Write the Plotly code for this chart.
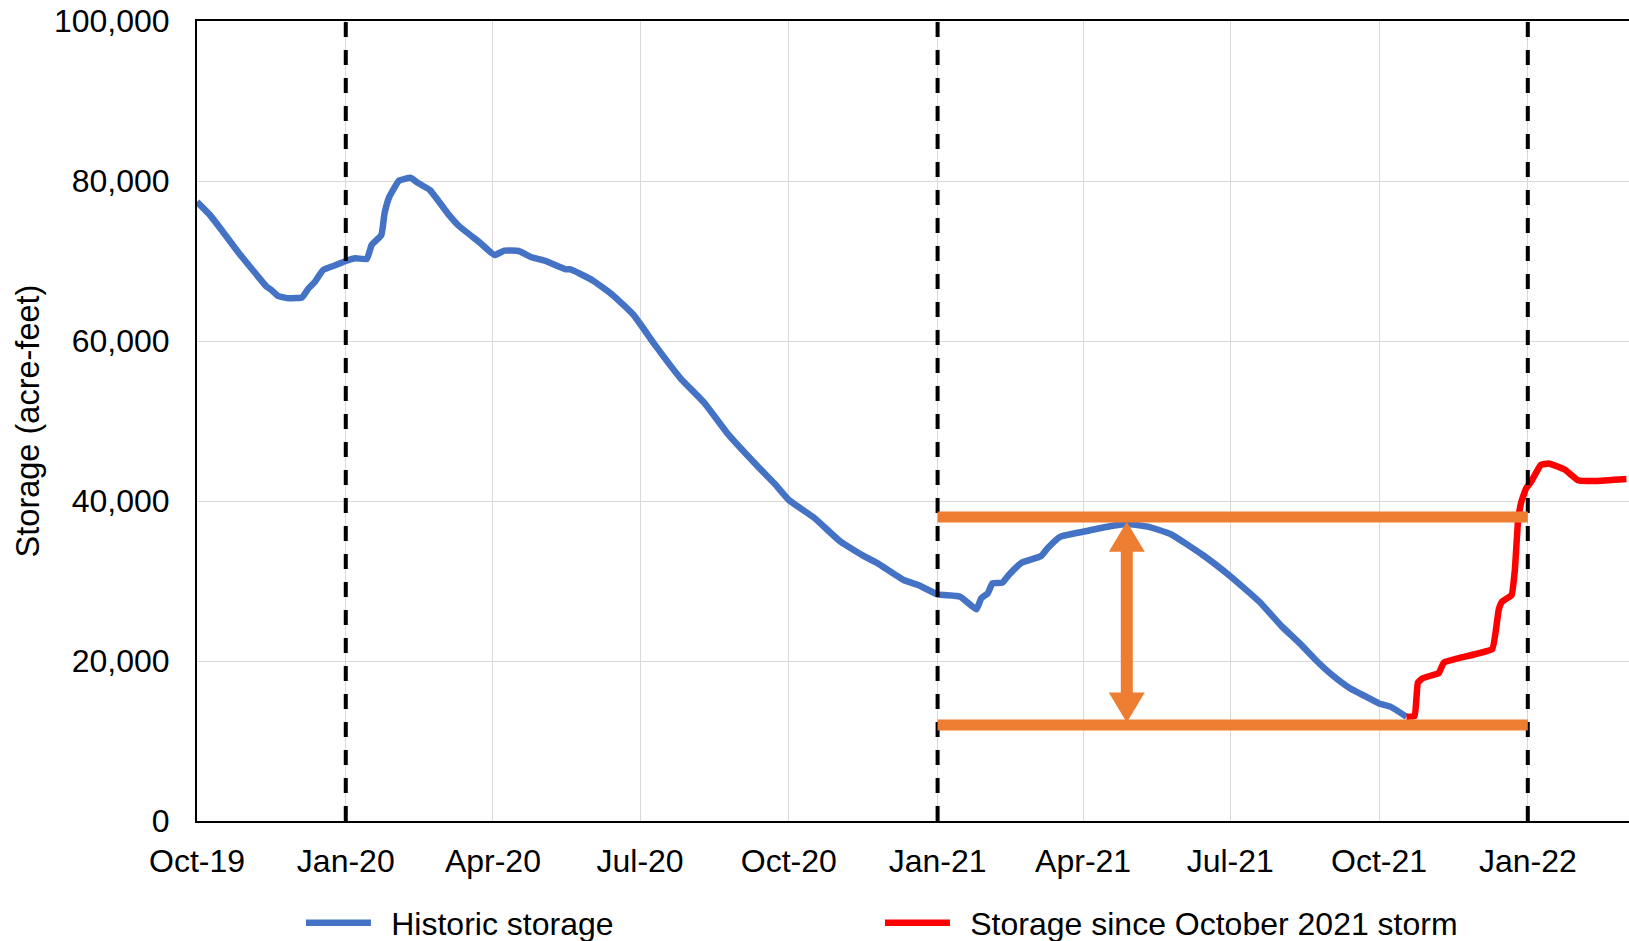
import plotly.graph_objects as go

# ---------------- data ----------------
hist_dates = [
    "2019-10-01", "2019-10-09", "2019-10-17", "2019-10-27", "2019-11-07", "2019-11-13",
    "2019-11-16", "2019-11-20", "2019-11-27", "2019-12-05", "2019-12-09", "2019-12-13",
    "2019-12-18", "2019-12-26", "2020-01-01", "2020-01-07", "2020-01-14", "2020-01-17",
    "2020-01-23", "2020-01-25", "2020-01-28", "2020-02-03", "2020-02-10", "2020-02-15",
    "2020-02-22", "2020-03-04", "2020-03-11", "2020-03-24", "2020-04-02", "2020-04-08",
    "2020-04-17", "2020-04-25", "2020-05-03", "2020-05-16", "2020-05-19", "2020-06-02",
    "2020-06-14", "2020-06-27", "2020-07-11", "2020-07-26", "2020-08-10", "2020-08-24",
    "2020-09-12", "2020-09-22", "2020-10-01", "2020-10-17", "2020-11-02", "2020-11-17",
    "2020-11-25", "2020-12-11", "2020-12-20", "2021-01-01", "2021-01-15", "2021-01-25",
    "2021-01-28", "2021-02-01", "2021-02-04", "2021-02-10", "2021-02-14", "2021-02-22",
    "2021-03-06", "2021-03-10", "2021-03-18", "2021-04-01", "2021-04-16", "2021-04-28",
    "2021-05-11", "2021-05-25", "2021-06-14", "2021-07-01", "2021-07-19", "2021-08-02",
    "2021-08-13", "2021-08-23", "2021-09-02", "2021-09-13", "2021-09-23", "2021-10-01",
    "2021-10-08", "2021-10-18",
]
hist_storage = [
    77400, 75750, 73660, 70960, 68250, 66800,
    66380, 65630, 65340, 65460, 66590, 67410,
    68875, 69500, 70000, 70340, 70250, 72000,
    73250, 75960, 78040, 80040, 80400, 79710,
    78875, 75960, 74375, 72290, 70750, 71290,
    71250, 70460, 70040, 68960, 68960, 67540,
    65750, 63250, 59290, 55340, 52210, 48460,
    44290, 42210, 40125, 37840, 34910, 33040,
    32210, 30125, 29500, 28340, 28040, 26460,
    27840, 28460, 29710, 29790, 30750, 32290,
    33125, 34090, 35540, 36160, 36790, 37125,
    36790, 35875, 33250, 30600, 27410, 24300,
    22200, 20100, 18250, 16600, 15540, 14700,
    14300, 13040,
]

storm_dates = [
    "2021-10-18", "2021-10-23", "2021-10-25", "2021-10-28", "2021-11-07", "2021-11-10",
    "2021-11-20", "2021-12-10", "2021-12-14", "2021-12-16", "2021-12-22", "2021-12-24",
    "2021-12-26", "2021-12-28", "2021-12-31", "2022-01-03", "2022-01-09", "2022-01-14",
    "2022-01-24", "2022-02-01", "2022-02-12", "2022-03-03",
]
storm_storage = [
    13040, 13100, 17300, 17850, 18500, 19800,
    20400, 21500, 26400, 27400, 28250, 31400,
    37600, 39900, 41600, 42400, 44500, 44700,
    43900, 42600, 42500, 42750,
]

tick_dates = ["2019-10-01", "2020-01-01", "2020-04-01", "2020-07-01", "2020-10-01",
              "2021-01-01", "2021-04-01", "2021-07-01", "2021-10-01", "2022-01-01"]
tick_labels = ["Oct-19", "Jan-20", "Apr-20", "Jul-20", "Oct-20",
               "Jan-21", "Apr-21", "Jul-21", "Oct-21", "Jan-22"]
y_ticks = [0, 20000, 40000, 60000, 80000, 100000]

year_marks = ["2020-01-01", "2021-01-01", "2022-01-01"]
band_start, band_end = "2021-01-01", "2022-01-01"
band_high, band_low = 38000, 12000
arrow_date = "2021-04-28"
arrow_top, arrow_bottom = 37400, 12300

X_RANGE = ["2019-10-01", "2022-03-04 14:00"]
Y_RANGE = [0, 100000]

# ---------------- styling ----------------
W, H = 1629, 941
M_L, M_R, M_T, M_B = 197, 0, 21, 120
PLOT_H = H - M_T - M_B
FONT = "Liberation Sans, Arial, sans-serif"
BLUE = "#4472C4"
RED = "#FF0000"
ORANGE = "#ED7D31"
GRID = "#D9D9D9"
NB = "\u00a0\u2009"

fig = go.Figure()
fig.add_trace(go.Scatter(x=hist_dates, y=hist_storage, mode="lines",
                         name=NB + "Historic storage",
                         line=dict(color=BLUE, width=6.5, shape="spline", smoothing=0.4)))
fig.add_trace(go.Scatter(x=storm_dates, y=storm_storage, mode="lines",
                         name=NB + "Storage since October 2021 storm",
                         line=dict(color=RED, width=6.5, shape="spline", smoothing=0.3)))

# dashed year markers
for d in year_marks:
    fig.add_shape(type="line", xref="x", yref="paper", x0=d, x1=d, y0=0, y1=1,
                  line=dict(color="black", width=4, dash="15px,13px"), layer="above")

# orange band lines
for v in (band_high, band_low):
    fig.add_shape(type="line", xref="x", yref="y", x0=band_start, x1=band_end, y0=v, y1=v,
                  line=dict(color=ORANGE, width=11), layer="above")

# double arrow (pixel widths, data heights)
units_per_px = (Y_RANGE[1] - Y_RANGE[0]) / PLOT_H
head = 30 * units_per_px
half_head_w, half_shaft_w = 18, 6
fig.add_shape(type="rect", xref="x", yref="y", xsizemode="pixel", xanchor=arrow_date,
              x0=-half_shaft_w, x1=half_shaft_w,
              y0=arrow_bottom + head - 200, y1=arrow_top - head + 200,
              fillcolor=ORANGE, line=dict(width=0), layer="above")
fig.add_shape(type="path", xref="x", yref="y", xsizemode="pixel", xanchor=arrow_date,
              path=f"M{-half_head_w},{arrow_top - head} L{half_head_w},{arrow_top - head} L0,{arrow_top} Z",
              fillcolor=ORANGE, line=dict(width=0), layer="above")
fig.add_shape(type="path", xref="x", yref="y", xsizemode="pixel", xanchor=arrow_date,
              path=f"M{-half_head_w},{arrow_bottom + head} L{half_head_w},{arrow_bottom + head} L0,{arrow_bottom} Z",
              fillcolor=ORANGE, line=dict(width=0), layer="above")

fig.update_layout(
    width=W, height=H,
    margin=dict(l=M_L, r=M_R, t=M_T, b=M_B, autoexpand=False),
    plot_bgcolor="white", paper_bgcolor="white",
    font=dict(family=FONT, size=32, color="black"),
    showlegend=True,
    legend=dict(orientation="h", x=0.0726, xanchor="left", y=-0.1275, yanchor="middle",
                font=dict(size=32), itemwidth=65, entrywidth=499, entrywidthmode="pixels",
                bgcolor="rgba(0,0,0,0)"),
)
fig.update_xaxes(
    type="date", range=X_RANGE,
    tickvals=tick_dates, ticktext=tick_labels,
    showgrid=True, gridcolor=GRID, gridwidth=1.3,
    showline=True, linecolor="black", linewidth=2, mirror=True,
    ticks="", ticklabelstandoff=11, tickfont=dict(size=32),
    ticklabeloverflow="allow",
    zeroline=False,
)
fig.update_yaxes(
    range=Y_RANGE, tickvals=y_ticks, tickformat=",",
    showgrid=True, gridcolor=GRID, gridwidth=1.3,
    showline=True, linecolor="black", linewidth=2, mirror=False,
    ticks="", ticklabelstandoff=19, tickfont=dict(size=32),
    ticklabeloverflow="allow",
    zeroline=False,
    title=dict(text="Storage (acre-feet)", font=dict(size=32.5), standoff=5),
)

# remove the page's default body margin so the figure fills the window exactly
fig.write_html("out.html", config={"displayModeBar": False},
               post_script="document.body.style.margin='0';")
